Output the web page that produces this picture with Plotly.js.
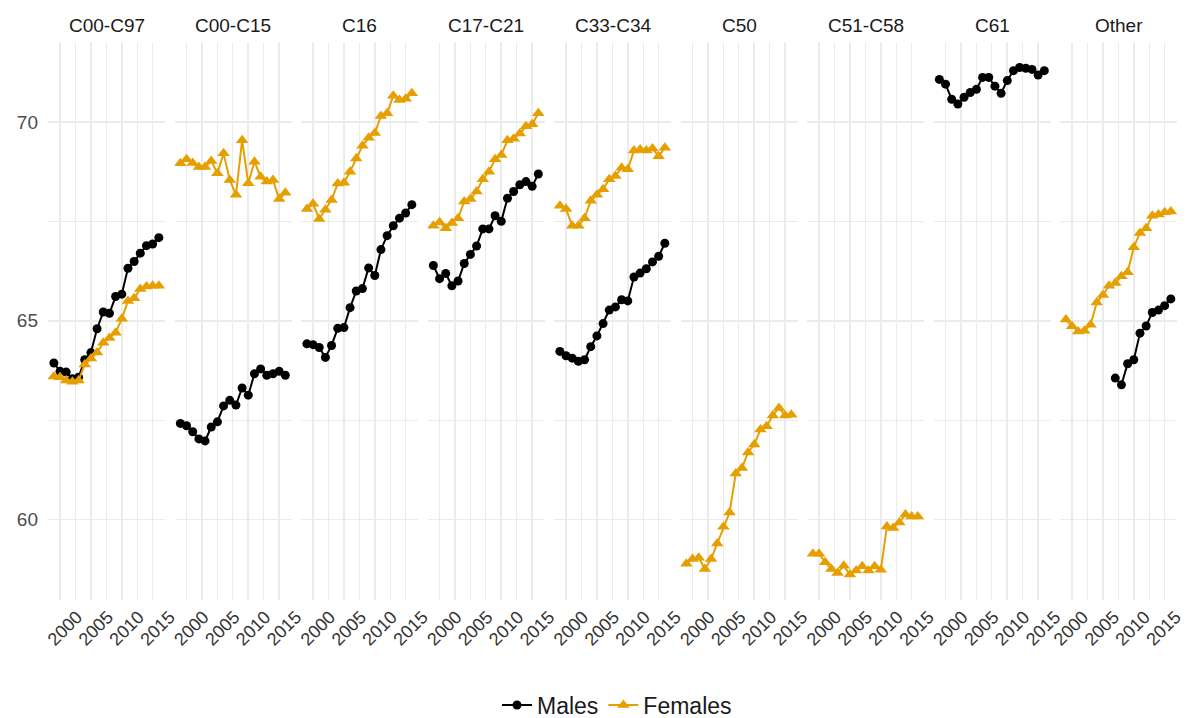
<!DOCTYPE html>
<html>
<head>
<meta charset="utf-8">
<script src="https://cdn.plot.ly/plotly-3.0.1.min.js"></script>
<style>html,body{margin:0;padding:0;background:#fff;}#chart{width:1187px;height:718px;}</style>
</head>
<body>
<div id="chart"></div>
<script>
const years = [1999,2000,2001,2002,2003,2004,2005,2006,2007,2008,2009,2010,2011,2012,2013,2014,2015,2016];
const sites = ["C00-C97","C00-C15","C16","C17-C21","C33-C34","C50","C51-C58","C61","Other"];
const xTickVals = [2000,2005,2010,2015];
const yTickVals = [60,65,70];

const males_C00_C97   = [63.94,63.73,63.71,63.54,63.58,64.02,64.20,64.80,65.22,65.19,65.61,65.67,66.32,66.49,66.70,66.89,66.93,67.09];
const females_C00_C97 = [63.60,63.58,63.50,63.47,63.50,63.90,64.05,64.20,64.45,64.57,64.70,65.05,65.50,65.57,65.80,65.86,65.88,65.88];
const males_C00_C15   = [62.42,62.36,62.21,62.03,61.98,62.33,62.46,62.86,63.00,62.88,63.31,63.13,63.67,63.79,63.63,63.67,63.73,63.63];
const females_C00_C15 = [68.96,69.06,68.97,68.87,68.87,69.02,68.71,69.21,68.54,68.17,69.54,68.46,69.00,68.62,68.50,68.54,68.06,68.22];
const males_C16       = [64.42,64.40,64.33,64.08,64.38,64.81,64.83,65.33,65.75,65.81,66.33,66.14,66.79,67.14,67.39,67.58,67.71,67.92];
const females_C16     = [67.81,67.94,67.56,67.79,68.04,68.45,68.47,68.75,69.08,69.40,69.60,69.72,70.15,70.22,70.66,70.55,70.58,70.72];
const males_C17_C21   = [66.39,66.06,66.19,65.88,66.00,66.44,66.67,66.88,67.31,67.31,67.64,67.50,68.08,68.25,68.42,68.50,68.38,68.69];
const females_C17_C21 = [67.39,67.48,67.33,67.46,67.58,68.00,68.06,68.25,68.56,68.75,69.06,69.17,69.54,69.58,69.71,69.89,69.94,70.22];
const males_C33_C34   = [64.23,64.12,64.06,63.98,64.02,64.35,64.62,64.93,65.27,65.35,65.53,65.50,66.10,66.20,66.31,66.48,66.62,66.95];
const females_C33_C34 = [67.89,67.81,67.39,67.39,67.58,68.02,68.17,68.31,68.56,68.64,68.85,68.81,69.28,69.31,69.28,69.33,69.14,69.35];
const males_C50       = [null,null,null,null,null,null,null,null,null,null,null,null,null,null,null,null,null,null];
const females_C50     = [58.89,59.01,59.04,58.76,59.01,59.40,59.82,60.18,61.16,61.30,61.69,61.89,62.27,62.35,62.62,62.81,62.62,62.64];
const males_C51_C58   = [null,null,null,null,null,null,null,null,null,null,null,null,null,null,null,null,null,null];
const females_C51_C58 = [59.14,59.14,58.93,58.76,58.66,58.84,58.62,58.72,58.83,58.72,58.83,58.74,59.83,59.79,59.93,60.13,60.08,60.08];
const males_C61       = [71.07,70.95,70.57,70.45,70.62,70.74,70.82,71.12,71.12,70.90,70.72,71.04,71.29,71.37,71.35,71.32,71.18,71.29];
const females_C61     = [null,null,null,null,null,null,null,null,null,null,null,null,null,null,null,null,null,null];
const males_Other     = [null,null,null,null,null,null,null,null,63.56,63.39,63.92,64.02,64.69,64.87,65.21,65.27,65.38,65.55];
const females_Other   = [65.03,64.86,64.73,64.75,64.90,65.46,65.65,65.88,65.95,66.12,66.22,66.85,67.21,67.33,67.64,67.67,67.73,67.75];

const malesBySite   = [males_C00_C97, males_C00_C15, males_C16, males_C17_C21, males_C33_C34, males_C50, males_C51_C58, males_C61, males_Other];
const femalesBySite = [females_C00_C97, females_C00_C15, females_C16, females_C17_C21, females_C33_C34, females_C50, females_C51_C58, females_C61, females_Other];

const W = 1187, H = 718;
const mL = 48, mR = 10, mT = 42, mB = 118;
const plotW = W - mL - mR;
const plotH = H - mT - mB;
const panelStep = 126.5, panelW = 117;

const MALE = '#000000', FEMALE = '#E69F00';
const GRID = '#EBEBEB';
const FONT = '"Liberation Sans", Arial, sans-serif';

const traces = [];
const layout = {
  width: W, height: H,
  margin: {l: mL, r: mR, t: mT, b: mB, pad: 0, autoexpand: false},
  paper_bgcolor: '#fff', plot_bgcolor: '#fff',
  font: {family: FONT, color: '#4D4D4D'},
  showlegend: true,
  legend: {orientation: 'h', xref: 'container', yref: 'container',
           x: 617 / W, xanchor: 'center', y: (H - 705) / H, yanchor: 'middle',
           font: {size: 23, color: '#1A1A1A', family: FONT}, itemwidth: 30, traceorder: 'normal',
           bgcolor: 'rgba(0,0,0,0)'},
  annotations: []
};

sites.forEach((site, i) => {
  const sfx = i === 0 ? '' : String(i + 1);
  const xa = 'x' + sfx, ya = 'y' + sfx;
  const d0 = (i * panelStep) / plotW, d1 = Math.min((i * panelStep + panelW) / plotW, 1);
  layout['xaxis' + sfx] = {
    domain: [d0, d1], anchor: ya,
    range: [1998.05, 2017.0],
    tickmode: 'array', tickvals: xTickVals,
    tickangle: -45, ticklabelshift: i === sites.length - 1 ? 11 : 17, ticklabelstandoff: 2, ticklabeloverflow: 'allow',
    tickfont: {size: 18, color: '#333333', family: FONT},
    showgrid: true, gridcolor: GRID, gridwidth: 1.6,
    minor: {tickmode: 'array', tickvals: [1997.5, 2002.5, 2007.5, 2012.5], showgrid: true, gridcolor: GRID, gridwidth: 1.2, ticks: ''},
    zeroline: false, showline: false, ticks: '', fixedrange: true, automargin: false
  };
  layout['yaxis' + sfx] = {
    domain: [0, 1], anchor: xa,
    range: [57.98, 72.01],
    tickmode: 'array', tickvals: yTickVals,
    showticklabels: i === 0, ticklabelstandoff: 9,
    tickfont: {size: 19, color: '#4D4D4D', family: FONT},
    showgrid: true, gridcolor: GRID, gridwidth: 1.6,
    minor: {tickmode: 'array', tickvals: [62.5, 67.5, 72.5], showgrid: true, gridcolor: GRID, gridwidth: 1.2, ticks: ''},
    zeroline: false, showline: false, ticks: '', fixedrange: true, automargin: false
  };
  if (i > 0) layout['yaxis' + sfx].matches = 'y';
  traces.push({
    type: 'scatter', mode: 'lines+markers', x: years, y: malesBySite[i],
    xaxis: xa, yaxis: ya, name: 'Males', legendgroup: 'm', showlegend: i === 0,
    line: {color: MALE, width: 2}, marker: {color: MALE, size: 9, symbol: 'circle'},
    connectgaps: false, hoverinfo: 'x+y'
  });
  traces.push({
    type: 'scatter', mode: 'lines+markers', x: years, y: femalesBySite[i],
    xaxis: xa, yaxis: ya, name: 'Females', legendgroup: 'f', showlegend: i === 0,
    line: {color: FEMALE, width: 2}, marker: {color: FEMALE, size: 11, symbol: 'triangle-up'},
    connectgaps: false, hoverinfo: 'x+y'
  });
  layout.annotations.push({
    text: site, xref: 'paper', yref: 'paper',
    x: (d0 + d1) / 2, xanchor: 'center',
    y: 1 + 17 / plotH, yanchor: 'middle', showarrow: false,
    font: {size: 19, color: '#1A1A1A', family: FONT}
  });
});

Plotly.newPlot('chart', traces, layout, {displayModeBar: false, staticPlot: true});
</script>
</body>
</html>
